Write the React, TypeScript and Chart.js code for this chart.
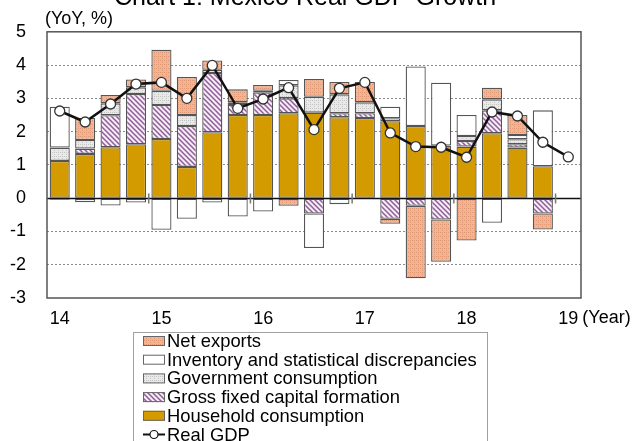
import { useEffect, useRef } from "react";
import { Chart, registerables } from "chart.js";

Chart.register(...registerables);

// Quarterly periods, 2014Q1 .. 2019Q1 (the last one only carries GDP)
const quarters = [
  "14Q1", "14Q2", "14Q3", "14Q4",
  "15Q1", "15Q2", "15Q3", "15Q4",
  "16Q1", "16Q2", "16Q3", "16Q4",
  "17Q1", "17Q2", "17Q3", "17Q4",
  "18Q1", "18Q2", "18Q3", "18Q4",
  "19Q1",
];
const yearLabels = ["14", "15", "16", "17", "18", "19"];

// Contributions to YoY real GDP growth, percentage points
const household = [1.12, 1.33, 1.53, 1.62, 1.78, 0.94, 1.98, 2.5, 2.5, 2.55, 2.57, 2.43, 2.41, 2.31, 2.17, 1.58, 1.55, 1.95, 1.52, 0.96, null];
const gfcf = [-0.05, 0.16, 0.96, 1.51, 1.02, 1.23, 1.78, 0.3, 0.68, 0.45, -0.46, 0.12, 0.14, -0.62, -0.23, -0.64, 0.17, 0.69, 0.1, -0.46, null];
const government = [0.4, 0.26, 0.36, 0.2, 0.43, 0.33, 0.1, 0.08, 0.05, 0.39, 0.48, 0.57, 0.33, 0.09, 0, 0, 0.15, 0.33, 0.15, 0, null];
const inventory = [1.23, -0.12, -0.22, -0.13, -0.95, -0.62, -0.13, -0.55, -0.4, 0.16, -1.04, -0.18, 0, 0.35, 1.79, 1.89, 0.63, -0.74, 0.13, 1.68, null];
const netExports = [0, 0.66, 0.25, 0.24, 1.23, 1.14, 0.28, 0.39, 0.17, -0.23, 0.53, 0.37, 0.61, -0.15, -2.18, -1.27, -1.27, 0.35, 0.6, -0.48, null];
const realGdp = [2.62, 2.29, 2.83, 3.43, 3.48, 3.0, 3.99, 2.7, 2.98, 3.32, 2.06, 3.3, 3.48, 1.96, 1.55, 1.53, 1.23, 2.59, 2.47, 1.68, 1.24];

const FONT = "Arial, 'Liberation Sans', Helvetica, sans-serif";
const EDGE = "#555555";

function makePattern(
  size: number,
  bg: string,
  paint: (c: CanvasRenderingContext2D, s: number) => void
): CanvasPattern | string {
  const tile = document.createElement("canvas");
  tile.width = size;
  tile.height = size;
  const c = tile.getContext("2d");
  if (!c) return bg;
  c.fillStyle = bg;
  c.fillRect(0, 0, size, size);
  paint(c, size);
  const p = c.createPattern(tile, "repeat");
  return p || bg;
}

const hatchPattern = () =>
  makePattern(5, "#F6ECF3", (c, s) => {
    c.strokeStyle = "#8E5C99";
    c.lineWidth = 1.5;
    for (let k = -1; k <= 1; k++) {
      c.beginPath();
      c.moveTo(-1, -1 + k * s);
      c.lineTo(s + 1, s + 1 + k * s);
      c.stroke();
    }
  });

const stipplePattern = (bg: string, dot: string) =>
  makePattern(4, bg, (c) => {
    c.fillStyle = dot;
    c.fillRect(0, 0, 1, 1);
    c.fillRect(2, 2, 1, 1);
    c.fillRect(2, 0, 1, 1);
  });

const decorations = {
  id: "decorations",
  afterDatasetsDraw(chart: any) {
    const { ctx, chartArea } = chart;
    const x = chart.scales.x;
    const y = chart.scales.y;
    const { left, right, top, bottom } = chartArea;
    ctx.save();

    // zero line
    const y0 = Math.round(y.getPixelForValue(0)) + 0.5;
    ctx.strokeStyle = "#111";
    ctx.lineWidth = 1.5;
    ctx.beginPath();
    ctx.moveTo(left, y0);
    ctx.lineTo(right, y0);
    ctx.stroke();

    // year separators on the zero line
    ctx.strokeStyle = "#777";
    ctx.lineWidth = 1.5;
    for (let i = 4; i < quarters.length; i += 4) {
      const xb = (x.getPixelForValue(i - 1) + x.getPixelForValue(i)) / 2;
      ctx.beginPath();
      ctx.moveTo(xb, y0 - 5);
      ctx.lineTo(xb, y0 + 5);
      ctx.stroke();
    }

    // plot frame
    ctx.strokeStyle = "#555";
    ctx.lineWidth = 1.5;
    ctx.strokeRect(left, top, right - left, bottom - top);
    ctx.restore();
  },
  afterDraw(chart: any) {
    const { ctx, chartArea } = chart;
    const x = chart.scales.x;
    ctx.save();
    ctx.fillStyle = "#000";

    // title
    ctx.font = `25px ${FONT}`;
    ctx.textAlign = "center";
    ctx.textBaseline = "alphabetic";
    ctx.fillText("Chart 1: Mexico Real GDP Growth", 305, 5);

    // unit label
    ctx.font = `18px ${FONT}`;
    ctx.textAlign = "left";
    ctx.fillText("(YoY, %)", chartArea.left - 2, 24);

    // year suffix beside the last tick
    const lastX = x.getPixelForValue(quarters.length - 1);
    ctx.textBaseline = "middle";
    ctx.fillText("(Year)", lastX + 14, 318);

    // legend
    const bx = 133.5;
    const by = 332.5;
    ctx.strokeStyle = "#A0A0A0";
    ctx.lineWidth = 1;
    ctx.fillStyle = "#fff";
    ctx.fillRect(bx, by, 354, 120);
    ctx.strokeRect(bx, by, 354, 120);

    const ds = chart.data.datasets;
    const items = [...ds.slice(1).reverse(), ds[0]];
    ctx.font = `18.4px ${FONT}`;
    ctx.textBaseline = "middle";
    items.forEach((d: any, i: number) => {
      const cy = 341 + i * 18.7;
      if (d.type === "line") {
        ctx.strokeStyle = "#111";
        ctx.lineWidth = 2;
        ctx.beginPath();
        ctx.moveTo(143, cy);
        ctx.lineTo(165, cy);
        ctx.stroke();
        ctx.beginPath();
        ctx.arc(154, cy, 4, 0, Math.PI * 2);
        ctx.fillStyle = "#fff";
        ctx.fill();
        ctx.lineWidth = 1.2;
        ctx.stroke();
      } else {
        ctx.fillStyle = d.backgroundColor;
        ctx.fillRect(143, cy - 5, 22, 10);
        ctx.strokeStyle = "#666";
        ctx.lineWidth = 1;
        ctx.strokeRect(143.5, cy - 4.5, 21, 9);
      }
      ctx.fillStyle = "#000";
      ctx.fillText(d.label, 167, cy + 1);
    });
    ctx.restore();
  },
};

export default function App() {
  const ref = useRef<HTMLCanvasElement | null>(null);

  useEffect(() => {
    const canvas = ref.current;
    if (!canvas) return;

    const barBase = {
      type: "bar" as const,
      borderColor: EDGE,
      borderWidth: 1.3,
      borderSkipped: false,
      barPercentage: 0.79,
      categoryPercentage: 1,
      order: 1,
    };

    const chart = new Chart(canvas, {
      data: {
        labels: quarters,
        datasets: [
          {
            type: "line",
            label: "Real GDP",
            data: realGdp,
            borderColor: "#111",
            borderWidth: 2.5,
            tension: 0,
            pointRadius: 5,
            pointBackgroundColor: "#fff",
            pointBorderColor: "#333",
            pointBorderWidth: 1.3,
            order: 0,
          },
          { ...barBase, label: "Household consumption", data: household, backgroundColor: "#D39B00" },
          { ...barBase, label: "Gross fixed capital formation", data: gfcf, backgroundColor: hatchPattern() },
          { ...barBase, label: "Government consumption", data: government, backgroundColor: stipplePattern("#E9E9E9", "#C4C4C4") },
          { ...barBase, label: "Inventory and statistical discrepancies", data: inventory, backgroundColor: "#FFFFFF" },
          { ...barBase, label: "Net exports", data: netExports, backgroundColor: stipplePattern("#F0B595", "#E09874") },
        ] as any,
      },
      options: {
        responsive: false,
        animation: false,
        layout: { padding: { top: 27, right: 55, left: 0, bottom: 0 } },
        plugins: {
          legend: { display: false },
          tooltip: { enabled: false },
        },
        scales: {
          x: {
            stacked: true,
            offset: true,
            grid: { display: false, drawTicks: false },
            border: { display: false },
            ticks: {
              autoSkip: false,
              maxRotation: 0,
              padding: 10,
              color: "#000",
              font: { family: FONT, size: 18 },
              callback: (_v: any, i: number) => (i % 4 === 0 ? yearLabels[i / 4] : ""),
            },
            afterFit: (s: any) => {
              s.height = 441 - 298;
            },
          },
          y: {
            stacked: true,
            min: -3,
            max: 5,
            grid: {
              drawTicks: false,
              lineWidth: 1,
              color: (c: any) =>
                c.tick && (c.tick.value === 0 || c.tick.value === 5 || c.tick.value === -3)
                  ? "rgba(0,0,0,0)"
                  : "#8a8a8a",
            },
            border: { display: false, dash: [2, 2] },
            ticks: {
              stepSize: 1,
              padding: 21,
              color: "#000",
              font: { family: FONT, size: 18 },
            },
            afterFit: (s: any) => {
              s.width = 47;
            },
          },
        },
      },
      plugins: [decorations],
    });

    return () => chart.destroy();
  }, []);

  return (
    <div style={{ position: "fixed", left: 0, top: 0, width: 636, height: 441, background: "#fff" }}>
      <canvas ref={ref} width={636} height={441} style={{ width: 636, height: 441, display: "block" }} />
    </div>
  );
}
